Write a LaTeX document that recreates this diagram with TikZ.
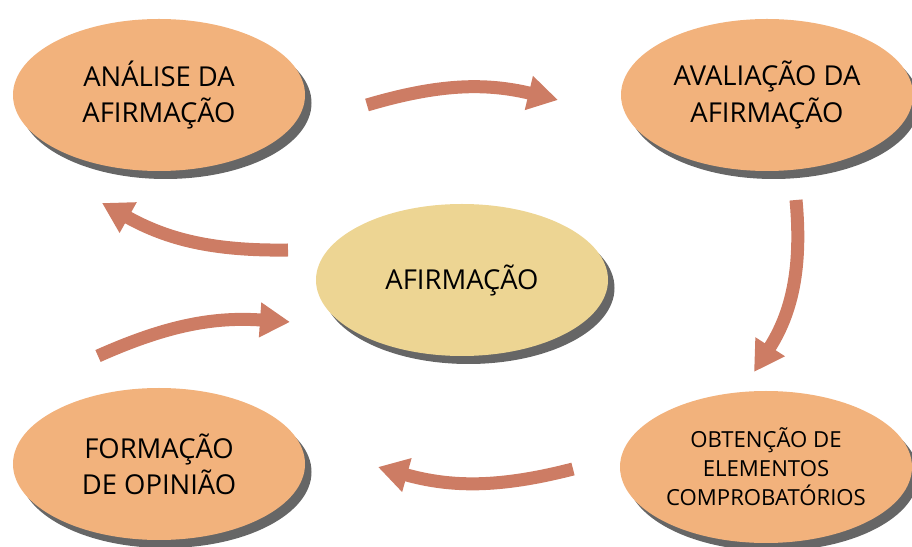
\documentclass[tikz,border=0pt]{standalone}
\usepackage{fontspec}
\setmainfont{Open Sans}
\usetikzlibrary{arrows.meta,shapes.geometric,shadows}
\definecolor{corEtapa}{HTML}{F2B27C}
\definecolor{corCentro}{HTML}{EDD593}
\definecolor{corSeta}{HTML}{CD7C64}
\definecolor{corSombra}{HTML}{666666}

\begin{document}
\begin{tikzpicture}[
    etapa/.style={ellipse, fill=#1, minimum width=5.84cm, minimum height=3.04cm,
        inner sep=1pt, align=center, font=\fontsize{15.6}{20.5}\selectfont,
        drop shadow={shadow xshift=0.13cm, shadow yshift=-0.16cm, fill=corSombra, opacity=1}},
    seta/.style={line width=0.26cm, corSeta, -{Triangle[length=0.6cm,width=0.66cm]}}
]
    \useasboundingbox (0,0) rectangle (18.24,10.94);

    % Etapas
    \node[etapa=corEtapa] (analise) at (3.18,9.04) {ANÁLISE DA\\AFIRMAÇÃO};
    \node[etapa=corEtapa] (avaliacao) at (15.34,9.04) {AVALIAÇÃO DA\\AFIRMAÇÃO};
    \node[etapa=corCentro] (afirmacao) at (9.24,5.34) {AFIRMAÇÃO};
    \node[etapa=corEtapa] (formacao) at (3.18,1.66) {FORMAÇÃO\\DE OPINIÃO};
    \node[etapa=corEtapa, font=\fontsize{12.6}{16.5}\selectfont] (obtencao) at (15.32,1.60)
        {OBTENÇÃO DE\\ELEMENTOS\\COMPROBATÓRIOS};

    % Pontas das setas
    \coordinate (s1a) at (7.34,8.84);   \coordinate (s1b) at (11.16,8.94);
    \coordinate (s2a) at (15.92,6.94);  \coordinate (s2b) at (15.08,3.50);
    \coordinate (s3a) at (11.46,1.56);  \coordinate (s3b) at (7.56,1.60);
    \coordinate (s4a) at (1.96,3.82);   \coordinate (s4b) at (5.80,4.50);
    \coordinate (s5a) at (5.76,5.94);   \coordinate (s5b) at (2.04,6.88);

    % Setas
    \draw[seta] (s1a) to[bend left=15] (s1b);
    \draw[seta] (s2a) to[bend left=19] (s2b);
    \draw[seta] (s3a) to[bend left=15] (s3b);
    \draw[seta] (s4a) to[bend left=14] (s4b);
    \draw[seta] (s5a) to[bend left=15] (s5b);

\end{tikzpicture}
\end{document}
